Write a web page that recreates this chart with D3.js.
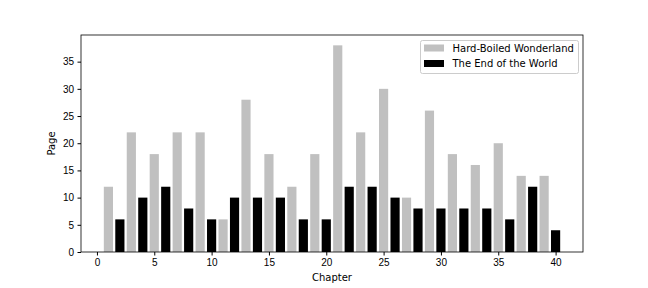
<!DOCTYPE html>
<html>
<head>
<meta charset="utf-8">
<script src="https://cdn.jsdelivr.net/npm/d3@7"></script>
<style>
  body { margin: 0; background: #fff; }
  svg { font-family: "DejaVu Sans", sans-serif; }
</style>
</head>
<body>
<svg id="chart" width="648" height="288"></svg>
<script>
// odd chapters: Hard-Boiled Wonderland, even chapters: The End of the World
const hbwChapters = [1, 3, 5, 7, 9, 11, 13, 15, 17, 19, 21, 23, 25, 27, 29, 31, 33, 35, 37, 39];
const hbwPages = [12, 22, 18, 22, 22, 6, 28, 18, 12, 18, 38, 22, 30, 10, 26, 18, 16, 20, 14, 14];
const eowChapters = [2, 4, 6, 8, 10, 12, 14, 16, 18, 20, 22, 24, 26, 28, 30, 32, 34, 36, 38, 40];
const eowPages = [6, 10, 12, 8, 6, 10, 10, 10, 6, 6, 12, 12, 10, 8, 8, 8, 8, 6, 12, 4];
const xTicks = [0, 5, 10, 15, 20, 25, 30, 35, 40];
const yTicks = [0, 5, 10, 15, 20, 25, 30, 35];

const series = [
  { name: "Hard-Boiled Wonderland", color: "#c0c0c0", chapters: hbwChapters, pages: hbwPages },
  { name: "The End of the World", color: "#000000", chapters: eowChapters, pages: eowPages }
];

const svg = d3.select("#chart");
const margin = { top: 35, right: 65, bottom: 36, left: 81 };
const width = 648, height = 288;
const barW = 0.8;

const x = d3.scaleLinear()
  .domain([-1.39, 42.39])
  .range([margin.left, width - margin.right]);

const y = d3.scaleLinear()
  .domain([0, 38 * 1.05])
  .range([height - margin.bottom, margin.top]);

series.forEach(s => {
  svg.append("g")
    .selectAll("rect")
    .data(s.chapters.map((c, i) => ({ c: c, p: s.pages[i] })))
    .enter().append("rect")
    .attr("x", d => x(d.c - barW / 2))
    .attr("width", d => x(d.c + barW / 2) - x(d.c - barW / 2))
    .attr("y", d => y(d.p))
    .attr("height", d => y(0) - y(d.p))
    .attr("fill", s.color);
});

// X-axis
const gx = svg.append("g")
  .attr("transform", `translate(0,${height - margin.bottom})`)
  .call(d3.axisBottom(x).tickValues(xTicks).tickSize(3.5).tickPadding(3.5).tickSizeOuter(0));
gx.select(".domain").remove();
gx.selectAll("text").style("font-size", "10px").attr("fill", "#000");

// Y-axis
const gy = svg.append("g")
  .attr("transform", `translate(${margin.left},0)`)
  .call(d3.axisLeft(y).tickValues(yTicks).tickSize(3.5).tickPadding(3.5).tickSizeOuter(0));
gy.select(".domain").remove();
gy.selectAll("text").style("font-size", "10px").attr("fill", "#000");

// frame
svg.append("rect")
  .attr("x", margin.left)
  .attr("y", margin.top)
  .attr("width", width - margin.right - margin.left)
  .attr("height", height - margin.bottom - margin.top)
  .attr("fill", "none")
  .attr("stroke", "#000")
  .attr("stroke-width", 0.8);

// labels
svg.append("text")
  .attr("x", (margin.left + width - margin.right) / 2)
  .attr("y", 281)
  .attr("text-anchor", "middle")
  .style("font-size", "10px")
  .text("Chapter");

svg.append("text")
  .attr("transform", `translate(55,${(margin.top + height - margin.bottom) / 2}) rotate(-90)`)
  .attr("text-anchor", "middle")
  .style("font-size", "10px")
  .text("Page");

// legend
const lg = svg.append("g").attr("transform", "translate(420.5,40.5)");
lg.append("rect")
  .attr("width", 158)
  .attr("height", 33)
  .attr("rx", 2)
  .attr("fill", "#fff")
  .attr("fill-opacity", 0.8)
  .attr("stroke", "#ccc")
  .attr("stroke-width", 1);
series.forEach((s, i) => {
  const row = lg.append("g").attr("transform", `translate(0,${7.5 + i * 15.5})`);
  row.append("rect")
    .attr("x", 3.5)
    .attr("y", -3.5)
    .attr("width", 20)
    .attr("height", 7)
    .attr("fill", s.color);
  row.append("text")
    .attr("x", 32)
    .attr("y", 3.6)
    .style("font-size", "10px")
    .text(s.name);
});
</script>
</body>
</html>
